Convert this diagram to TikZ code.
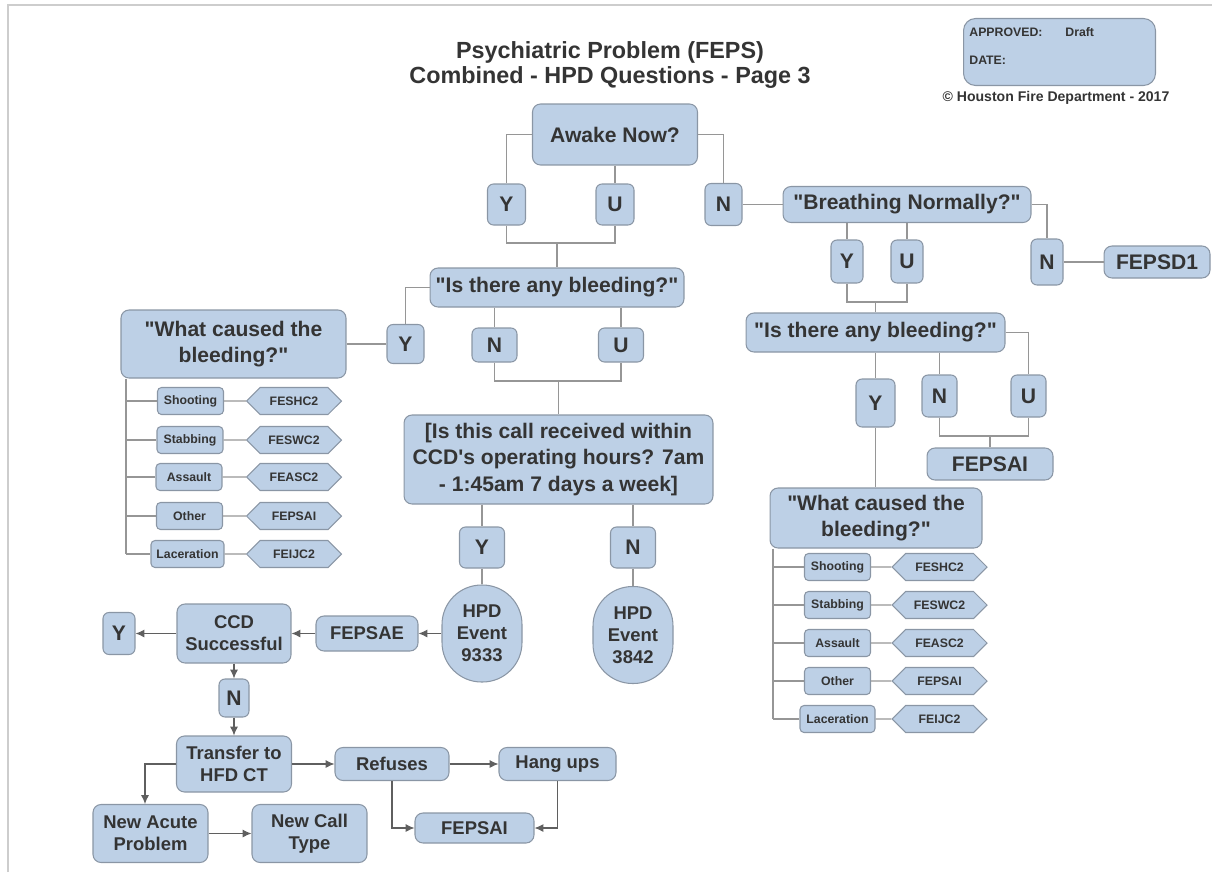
\documentclass[tikz,border=0pt]{standalone}
\usepackage{fontspec}
\setmainfont{Liberation Sans}
\usetikzlibrary{shapes.symbols,arrows.meta}

\definecolor{boxblue}{RGB}{189,208,230}
\definecolor{boxline}{RGB}{138,150,165}
\definecolor{inkgrey}{RGB}{52,52,52}
\definecolor{wiregrey}{RGB}{150,150,150}
\definecolor{arrowgrey}{RGB}{95,95,95}
\definecolor{pagegrey}{RGB}{205,205,205}

\newcommand{\dq}{\textquotedbl}

\tikzset{
  box/.style={draw=boxline, fill=boxblue, rounded corners=0.16cm, text=inkgrey, inner sep=0pt, align=center, line width=0.6pt, font=\fontsize{12}{15}\selectfont\bfseries},
  lowbox/.style={box, font=\fontsize{10.5}{12.5}\selectfont\bfseries},
  yn/.style={box, rounded corners=0.12cm, minimum width=0.76cm, minimum height=0.82cm},
  tag/.style={box, rounded corners=0.08cm, minimum width=1.32cm, minimum height=0.54cm, font=\fontsize{7}{8}\selectfont\bfseries},
  hexa/.style={draw=boxline, fill=boxblue, signal, signal to=east and west, minimum width=1.9cm, minimum height=0.54cm, inner sep=0pt, line width=0.6pt, text=inkgrey, font=\fontsize{7}{8}\selectfont\bfseries},
  wire/.style={draw=wiregrey, line width=0.6pt},
  arr/.style={draw=arrowgrey, line width=0.6pt, -{Latex[length=5pt,width=4.5pt]}},
  small/.style={inner sep=0pt, text=inkgrey, font=\fontsize{7}{8}\selectfont\bfseries}
}

\begin{document}
\begin{tikzpicture}[x=0.02cm,y=-0.02cm]
\useasboundingbox (0,0) rectangle (1212,872);
\draw[pagegrey, line width=1.2pt] (8,872) -- (8,5) -- (1212,5); % page edge

\node[text=inkgrey, align=center, font=\fontsize{13.3}{14.7}\selectfont\bfseries] (title) at (610,65) {Psychiatric Problem (FEPS)\\Combined - HPD Questions - Page 3}; % title
\node[box, rounded corners=0.24cm, minimum width=3.84cm, minimum height=1.34cm] (approval) at (1059.5,52) {}; % approval
\node[small, anchor=west] (apprlbl) at (969,32) {APPROVED:}; % approval
\node[small, anchor=west] (draft) at (1065,32) {Draft}; % approval
\node[small, anchor=west] (datelbl) at (969,60) {DATE:}; % approval
\node[small, font=\fontsize{8}{9}\selectfont\bfseries] (copyline) at (1056,98) {\textcopyright{} Houston Fire Department - 2017}; % copyright

% Awake / Breathing
\node[box, minimum width=3.3cm, minimum height=1.22cm] (awake) at (615,134.5) {Awake Now?}; % awake
\node[yn] (ay) at (506.5,204.5) {Y}; % awake.Y
\node[yn] (au) at (615,204.5) {U}; % awake.U
\node[yn, minimum width=0.74cm, minimum height=0.84cm] (an) at (723.5,204.5) {N}; % awake.N
\node[box, minimum width=4.96cm, minimum height=0.72cm] (breath) at (907,204.5) {\dq Breathing Normally?\dq}; % breath
\node[yn, minimum width=0.64cm, minimum height=0.86cm] (by) at (847,261.5) {Y}; % breath.Y
\node[yn, minimum width=0.64cm, minimum height=0.86cm] (bu) at (907,261.5) {U}; % breath.U
\node[yn, minimum width=0.64cm, minimum height=0.92cm] (bn) at (1047,262) {N}; % breath.N
\node[box, minimum width=2.12cm, minimum height=0.64cm] (fepsdone) at (1157,262) {FEPSD1}; % breath.N.out
\draw[wire] (awake.west) -| (ay.north); % awake.Y
\draw[wire] (awake.south) -- (au.north); % awake.U
\draw[wire] (awake.east) -| (an.north); % awake.N
\coordinate (jay) at (557,243);
\draw[wire] (ay.south) |- (jay) -| (au.south); % awake.join
\draw[wire] (an.east) -- (breath.west); % awake.N
\draw[wire] (breath.south -| by) -- (by.north); % breath.Y
\draw[wire] (breath.south) -- (bu.north); % breath.U
\draw[wire] (breath.east) -| (bn.north); % breath.N
\draw[wire] (bn.east) -- (fepsdone.west); % breath.N.out

% left bleeding question
\node[box, minimum width=5.08cm, minimum height=0.78cm] (bleedl) at (557,287.5) {\dq Is there any bleeding?\dq}; % bleedl
\node[yn, minimum width=0.74cm, minimum height=0.78cm] (ly) at (405.5,344) {Y}; % bleedl.Y
\node[yn, minimum width=0.9cm, minimum height=0.68cm] (ln) at (494.5,345) {N}; % bleedl.N
\node[yn, minimum width=0.9cm, minimum height=0.68cm] (lu) at (621,345) {U}; % bleedl.U
\node[box, minimum width=4.5cm, minimum height=1.36cm] (causel) at (233.5,344) {\dq What caused the\\bleeding?\dq}; % causel
\draw[wire] (jay) -- (bleedl.north); % awake.join
\draw[wire] (bleedl.west) -| (ly.north); % bleedl.Y
\draw[wire] (bleedl.south -| ln) -- (ln.north); % bleedl.N
\draw[wire] (bleedl.south -| lu) -- (lu.north); % bleedl.U
\draw[wire] (ly.west) -- (causel.east); % bleedl.Y
\node[tag] (shootl) at (190.5,401) {Shooting}; % causel.1
\node[hexa] (feshcl) at (294,401) {FESHC2}; % causel.1
\node[tag] (stabl) at (190,440) {Stabbing}; % causel.2
\node[hexa] (feswcl) at (294,440) {FESWC2}; % causel.2
\node[tag] (assaultl) at (189,477) {Assault}; % causel.3
\node[hexa] (feascl) at (294,477) {FEASC2}; % causel.3
\node[tag] (otherl) at (189.5,516) {Other}; % causel.4
\node[hexa] (fepsail) at (294,516) {FEPSAI}; % causel.4
\node[tag, minimum width=1.46cm] (lacl) at (187.5,554) {Laceration}; % causel.5
\node[hexa] (feijcl) at (294,554) {FEIJC2}; % causel.5
\coordinate (spinel) at (126,554);
\draw[wire] (causel.south -| spinel) -- (spinel); % causel.spine
\draw[wire] (shootl.west -| spinel) -- (shootl.west); % causel.1
\draw[wire] (shootl) -- (feshcl); % causel.1
\draw[wire] (stabl.west -| spinel) -- (stabl.west); % causel.2
\draw[wire] (stabl) -- (feswcl); % causel.2
\draw[wire] (assaultl.west -| spinel) -- (assaultl.west); % causel.3
\draw[wire] (assaultl) -- (feascl); % causel.3
\draw[wire] (otherl.west -| spinel) -- (otherl.west); % causel.4
\draw[wire] (otherl) -- (fepsail); % causel.4
\draw[wire] (lacl.west -| spinel) -- (lacl.west); % causel.5
\draw[wire] (lacl) -- (feijcl); % causel.5

% right bleeding question
\node[box, minimum width=5.18cm, minimum height=0.78cm] (bleedr) at (875.5,332.5) {\dq Is there any bleeding?\dq}; % bleedr
\node[yn, minimum width=0.78cm, minimum height=0.96cm] (ry) at (875.5,403) {Y}; % bleedr.Y
\node[yn, minimum width=0.7cm, minimum height=0.84cm] (rn) at (939.5,396) {N}; % bleedr.N
\node[yn, minimum width=0.7cm, minimum height=0.84cm] (ru) at (1028.5,396) {U}; % bleedr.U
\node[box, minimum width=2.52cm, minimum height=0.64cm] (fepsair) at (990,464) {FEPSAI}; % bleedr.NU.out
\node[box, minimum width=4.24cm, minimum height=1.2cm] (causer) at (876,518) {\dq What caused the\\bleeding?\dq}; % causer
\coordinate (jby) at (875.5,302);
\draw[wire] (by.south) |- (jby) -| (bu.south); % breath.join
\draw[wire] (jby) -- (bleedr.north); % breath.join
\draw[wire] (bleedr.south -| ry) -- (ry.north); % bleedr.Y
\draw[wire] (ry.south) -- (ry.south |- causer.north); % bleedr.Y
\draw[wire] (bleedr.south -| rn) -- (rn.north); % bleedr.N
\draw[wire] (bleedr.east) -| (ru.north); % bleedr.U
\coordinate (jrn) at (990,436);
\draw[wire] (rn.south) |- (jrn) -| (ru.south); % bleedr.join
\draw[wire] (jrn) -- (fepsair.north); % bleedr.join
\node[tag] (shootr) at (837.5,567) {Shooting}; % causer.1
\node[hexa] (feshcr) at (939.5,567) {FESHC2}; % causer.1
\node[tag] (stabr) at (837.5,605) {Stabbing}; % causer.2
\node[hexa] (feswcr) at (939.5,605) {FESWC2}; % causer.2
\node[tag] (assaultr) at (837.5,643) {Assault}; % causer.3
\node[hexa] (feascr) at (939.5,643) {FEASC2}; % causer.3
\node[tag] (otherr) at (837.5,681) {Other}; % causer.4
\node[hexa] (fepsair2) at (939.5,681) {FEPSAI}; % causer.4
\node[tag, minimum width=1.5cm] (lacr) at (837.5,719) {Laceration}; % causer.5
\node[hexa] (feijcr) at (939.5,719) {FEIJC2}; % causer.5
\coordinate (spiner) at (773,719);
\draw[wire] (causer.south -| spiner) -- (spiner); % causer.spine
\draw[wire] (shootr.west -| spiner) -- (shootr.west); % causer.1
\draw[wire] (shootr) -- (feshcr); % causer.1
\draw[wire] (stabr.west -| spiner) -- (stabr.west); % causer.2
\draw[wire] (stabr) -- (feswcr); % causer.2
\draw[wire] (assaultr.west -| spiner) -- (assaultr.west); % causer.3
\draw[wire] (assaultr) -- (feascr); % causer.3
\draw[wire] (otherr.west -| spiner) -- (otherr.west); % causer.4
\draw[wire] (otherr) -- (fepsair2); % causer.4
\draw[wire] (lacr.west -| spiner) -- (lacr.west); % causer.5
\draw[wire] (lacr) -- (feijcr); % causer.5

% operating hours
\node[box, minimum width=6.18cm, minimum height=1.78cm] (ccdhours) at (558.5,459.5) {[Is this call received within\\CCD\textquotesingle s operating hours? 7am\\- 1:45am 7 days a week]}; % ccdhours
\node[yn, minimum width=0.9cm, minimum height=0.82cm] (cy) at (482,547.5) {Y}; % ccdhours.Y
\node[yn, minimum width=0.9cm, minimum height=0.82cm] (cn) at (633,547.5) {N}; % ccdhours.N
\node[lowbox, rounded corners=0.79cm, minimum width=1.6cm, minimum height=1.94cm] (hpda) at (482,633.5) {HPD\\Event\\9333}; % ccdhours.Y.out
\node[lowbox, rounded corners=0.79cm, minimum width=1.6cm, minimum height=1.94cm] (hpdb) at (633,635) {HPD\\Event\\3842}; % ccdhours.N.out
\coordinate (jln) at (558.5,381);
\draw[wire] (ln.south) |- (jln) -| (lu.south); % bleedl.join
\draw[wire] (jln) -- (ccdhours.north); % bleedl.join
\draw[wire] (ccdhours.south -| cy) -- (cy.north); % ccdhours.Y
\draw[wire] (ccdhours.south -| cn) -- (cn.north); % ccdhours.N
\draw[wire] (cy) -- (hpda); % ccdhours.Y.out
\draw[wire] (cn) -- (hpdb); % ccdhours.N.out

% CCD transfer
\node[lowbox, minimum width=2.04cm, minimum height=0.7cm] (fepsae) at (367,633.5) {FEPSAE}; % fepsae
\node[lowbox, minimum width=2.28cm, minimum height=1.18cm] (ccdok) at (234,633.5) {CCD\\Successful}; % ccdok
\node[yn, minimum width=0.64cm, minimum height=0.84cm] (oky) at (119,633.5) {Y}; % ccdok.Y
\node[yn, minimum width=0.6cm, minimum height=0.76cm] (okn) at (234,698) {N}; % ccdok.N
\node[lowbox, minimum width=2.3cm, minimum height=1.12cm] (transfer) at (234,764) {Transfer to\\HFD CT}; % transfer
\node[lowbox, minimum width=2.28cm, minimum height=0.66cm] (refuses) at (392,764) {Refuses}; % refuses
\node[lowbox, minimum width=2.34cm, minimum height=0.66cm] (hangups) at (557.5,764) {Hang ups}; % hangups
\node[lowbox, minimum width=2.38cm, minimum height=0.6cm] (fepsaib) at (474.5,828) {FEPSAI}; % fepsaib
\node[lowbox, minimum width=2.3cm, minimum height=1.16cm] (acute) at (150.5,833.5) {New Acute\\Problem}; % acute
\node[lowbox, minimum width=2.3cm, minimum height=1.16cm] (calltype) at (309.5,833.5) {New Call\\Type}; % calltype
\draw[arr] (hpda) -- (fepsae); % hpda
\draw[arr] (fepsae) -- (ccdok); % fepsae
\draw[arr] (ccdok) -- (oky); % ccdok.Y
\draw[arr] (ccdok) -- (okn); % ccdok.N
\draw[arr] (okn) -- (transfer); % ccdok.N
\draw[arr] (transfer) -- (refuses); % transfer
\draw[arr] (refuses) -- (hangups); % refuses
\draw[arr] (refuses.south) |- (fepsaib.west); % refuses
\draw[arr] (hangups.south) |- (fepsaib.east); % hangups
\draw[arr] (transfer.west) -| ([xshift=-0.11cm]acute.north); % transfer
\draw[arr] (acute) -- (calltype); % acute
\end{tikzpicture}
\end{document}
